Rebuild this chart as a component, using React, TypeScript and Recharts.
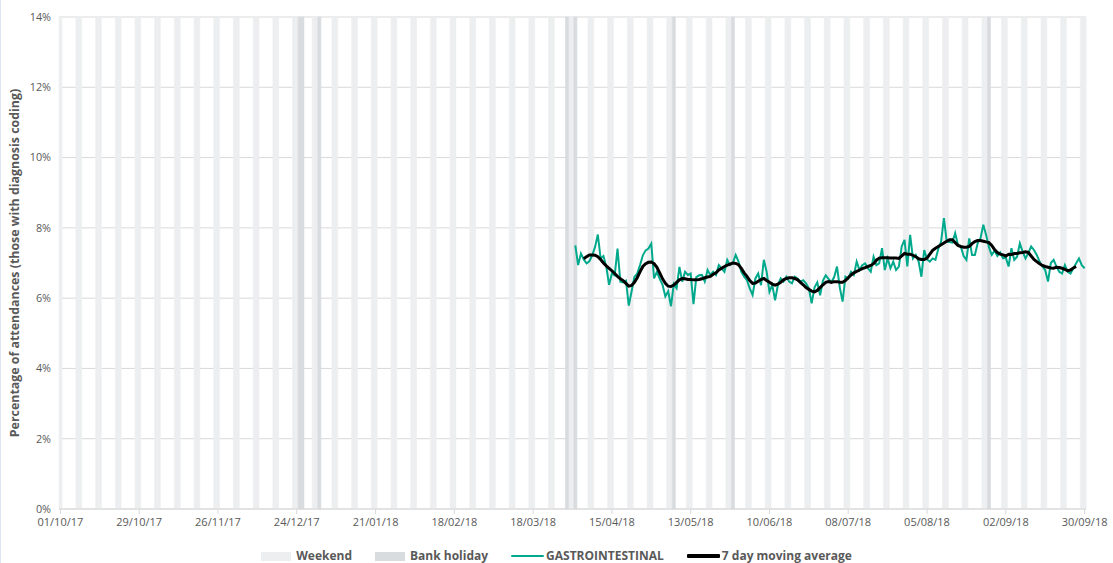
import React from "react";
import { ComposedChart, Bar, Line, XAxis, YAxis, CartesianGrid } from "recharts";

// ---- categories: one per day, 01/10/17 .. 30/09/18
const START_DATE = "2017-10-01";
const DAY_COUNT = 365;

// ---- bank holidays (dd/mm/yy)
const BANK_HOLIDAYS = ["25/12/17", "26/12/17", "01/01/18", "30/03/18", "02/04/18", "07/05/18", "28/05/18", "27/08/18"];

// ---- GASTROINTESTINAL daily % (from 02/04/18 to 30/09/18)
const GI_START = "02/04/18";
const GI_VALUES = [
  7.5, 6.94, 7.27, 7.1, 6.99, 7.05, 7.22, 7.45, 7.81, 7.13, 7.2, 6.9, 6.38, 6.7, 6.65, 7.41, 6.47, 6.45, 6.5, 5.79,
  6.19, 6.6, 6.7, 6.94, 7.22, 7.36, 7.41, 7.55, 6.56, 6.75, 6.55, 6.38, 6.05, 6.2, 5.77, 6.4, 6.28, 6.89, 6.47, 6.75,
  6.66, 6.7, 5.83, 6.6, 6.65, 6.66, 6.47, 6.8, 6.66, 6.75, 6.66, 6.94, 6.85, 6.75, 7.09, 6.94, 7.0, 7.23, 7.04, 6.75,
  6.61, 6.51, 6.28, 6.09, 6.56, 6.7, 6.37, 7.09, 6.75, 6.18, 6.37, 5.94, 6.37, 6.56, 6.47, 6.61, 6.47, 6.42, 6.61, 6.56,
  6.47, 6.51, 6.42, 6.28, 5.85, 6.3, 6.45, 6.08, 6.5, 6.65, 6.55, 6.45, 6.6, 6.9, 6.3, 5.9, 6.61, 6.56, 6.75, 6.66,
  7.04, 6.8, 6.94, 6.99, 6.85, 6.75, 7.18, 6.94, 6.99, 7.42, 6.8, 7.13, 6.85, 7.04, 6.8, 6.9, 7.47, 7.66, 6.9, 7.8,
  7.13, 7.23, 7.05, 6.61, 7.37, 7.1, 7.04, 7.13, 7.09, 7.4, 7.61, 8.28, 7.61, 7.6, 7.58, 7.85, 7.51, 7.47, 7.2, 7.09,
  7.7, 7.23, 7.23, 7.56, 7.7, 8.09, 7.8, 7.45, 7.23, 7.35, 7.2, 7.3, 7.13, 7.15, 6.9, 7.42, 7.09, 7.18, 7.56, 7.32,
  7.13, 7.28, 7.47, 7.37, 7.23, 7.04, 6.9, 6.8, 6.47, 7.0, 7.09, 6.9, 6.75, 6.7, 6.94, 6.75, 6.7, 6.85, 6.99, 7.13,
  6.94, 6.85,
];

// ---- 7 day moving average (centred, from 05/04/18 to 27/09/18)
const MA_START = "05/04/18";
const MA_VALUES = [
  7.12, 7.18, 7.23, 7.23, 7.22, 7.18, 7.1, 7.0, 6.92, 6.85, 6.78, 6.7, 6.62, 6.55, 6.5, 6.42, 6.34, 6.36, 6.45, 6.58,
  6.75, 6.9, 6.98, 7.02, 7.03, 6.98, 6.88, 6.72, 6.55, 6.42, 6.34, 6.33, 6.37, 6.45, 6.52, 6.56, 6.55, 6.53, 6.53, 6.52,
  6.52, 6.53, 6.55, 6.58, 6.6, 6.62, 6.68, 6.72, 6.8, 6.85, 6.9, 6.94, 6.97, 7.0, 6.99, 6.95, 6.85, 6.72, 6.62, 6.5,
  6.42, 6.43, 6.48, 6.53, 6.56, 6.5, 6.45, 6.4, 6.37, 6.4, 6.45, 6.52, 6.56, 6.58, 6.58, 6.56, 6.52, 6.45, 6.38, 6.3,
  6.25, 6.2, 6.18, 6.22, 6.3, 6.38, 6.45, 6.47, 6.45, 6.47, 6.47, 6.45, 6.45, 6.5, 6.58, 6.66, 6.72, 6.76, 6.8, 6.84,
  6.87, 6.9, 6.93, 6.98, 7.08, 7.14, 7.15, 7.15, 7.15, 7.14, 7.14, 7.14, 7.13, 7.2, 7.27, 7.25, 7.25, 7.22, 7.18, 7.12,
  7.1, 7.1, 7.14, 7.25, 7.36, 7.42, 7.47, 7.52, 7.57, 7.62, 7.66, 7.66, 7.58, 7.5, 7.47, 7.45, 7.45, 7.47, 7.55, 7.61,
  7.64, 7.64, 7.62, 7.6, 7.58, 7.5, 7.38, 7.3, 7.25, 7.23, 7.2, 7.25, 7.24, 7.27, 7.27, 7.29, 7.3, 7.32, 7.3, 7.2,
  7.1, 7.04, 6.98, 6.93, 6.9, 6.88, 6.86, 6.85, 6.88, 6.87, 6.85, 6.82, 6.78, 6.8, 6.86, 6.9,
];

// ---- axis ticks
const Y_TICKS = [0, 2, 4, 6, 8, 10, 12, 14];
const BG_HEIGHT = 14;

const pad = (n: number) => (n < 10 ? "0" + n : "" + n);

function buildData() {
  const rows: any[] = [];
  const start = new Date(START_DATE + "T00:00:00Z");
  for (let i = 0; i < DAY_COUNT; i++) {
    const d = new Date(start.getTime() + i * 86400000);
    const label = pad(d.getUTCDate()) + "/" + pad(d.getUTCMonth() + 1) + "/" + pad(d.getUTCFullYear() % 100);
    const dow = d.getUTCDay();
    const isWeekend = dow === 0 || dow === 6;
    const isBH = BANK_HOLIDAYS.includes(label);
    rows.push({ date: label, weekend: isWeekend && !isBH ? BG_HEIGHT : null, bank: isBH ? BG_HEIGHT : null, gi: null, ma: null });
  }
  const giIdx = rows.findIndex((r) => r.date === GI_START);
  GI_VALUES.forEach((v, k) => {
    if (rows[giIdx + k]) rows[giIdx + k].gi = v;
  });
  const maIdx = rows.findIndex((r) => r.date === MA_START);
  MA_VALUES.forEach((v, k) => {
    if (rows[maIdx + k]) rows[maIdx + k].ma = v;
  });
  return rows;
}

const DATA = buildData();

const FONT = "'Open Sans', 'Liberation Sans', sans-serif";
const TEXT = "#595959";
const WEEKEND = "#EDEEF0";
const BANK = "#D9DCDF";
const GI_COLOR = "#00A98C";

const LEGEND_ITEMS = [
  { label: "Weekend", kind: "box", color: WEEKEND },
  { label: "Bank holiday", kind: "box", color: BANK },
  { label: "GASTROINTESTINAL", kind: "line", color: GI_COLOR, thick: 2 },
  { label: "7 day moving average", kind: "line", color: "#000000", thick: 3.5 },
];

export default function App() {
  return (
    <div style={{ position: "absolute", left: 0, top: 0, width: 1113, height: 563, background: "#fff", overflow: "hidden" }}>
      <div style={{ position: "absolute", left: 0, top: 0, width: 1, height: 563, background: "#DCE6F2" }} />
      <ComposedChart
        width={1113}
        height={563}
        data={DATA}
        margin={{ top: 17, right: 27, bottom: 24, left: 0 }}
        barCategoryGap={0}
        barGap={0}
      >
        <CartesianGrid vertical={false} stroke="#D9D9D9" strokeWidth={1} />
        <XAxis
          dataKey="date"
          interval={27}
          axisLine={{ stroke: "#D9D9D9" }}
          tickLine={{ stroke: "#D9D9D9" }}
          tickSize={5}
          tickMargin={4}
          height={30}
          tick={{ fontFamily: FONT, fontSize: 11, fill: TEXT }}
        />
        <YAxis
          domain={[0, 14]}
          ticks={Y_TICKS}
          width={59}
          axisLine={false}
          tickLine={false}
          tickSize={0}
          tickMargin={8}
          tickFormatter={(v: number) => v + "%"}
          tick={{ fontFamily: FONT, fontSize: 10.8, fill: TEXT }}
          label={{
            value: "Percentage of attendances (those with diagnosis coding)",
            angle: -90,
            position: "insideLeft",
            dx: 10,
            dy: 0,
            style: { textAnchor: "middle", fontFamily: FONT, fontSize: 12.4, fontWeight: 700, fill: TEXT },
          }}
        />
        <Bar dataKey="weekend" stackId="bg" fill={WEEKEND} stroke={WEEKEND} strokeWidth={0.6} isAnimationActive={false} />
        <Bar dataKey="bank" stackId="bg" fill={BANK} stroke={BANK} strokeWidth={0.6} isAnimationActive={false} />
        <Line type="linear" dataKey="gi" stroke={GI_COLOR} strokeWidth={2} dot={false} isAnimationActive={false} />
        <Line type="linear" dataKey="ma" stroke="#000000" strokeWidth={3} dot={false} isAnimationActive={false} />
      </ComposedChart>
      {/* legend */}
      <div
        style={{
          position: "absolute",
          left: 0,
          top: 549,
          width: 1113,
          height: 14,
          display: "flex",
          justifyContent: "center",
          alignItems: "center",
          gap: 23,
          fontFamily: FONT,
          fontSize: 12,
          fontWeight: 700,
          color: TEXT,
          whiteSpace: "nowrap",
          lineHeight: "14px",
        }}
      >
        {LEGEND_ITEMS.map((it) => (
          <div key={it.label} style={{ display: "flex", alignItems: "center", gap: it.kind === "box" ? 5 : 2 }}>
            {it.kind === "box" ? (
              <div style={{ width: 30, height: 9, background: it.color }} />
            ) : (
              <div style={{ width: 33, height: it.thick, background: it.color, borderRadius: 1 }} />
            )}
            <span>{it.label}</span>
          </div>
        ))}
      </div>
    </div>
  );
}
